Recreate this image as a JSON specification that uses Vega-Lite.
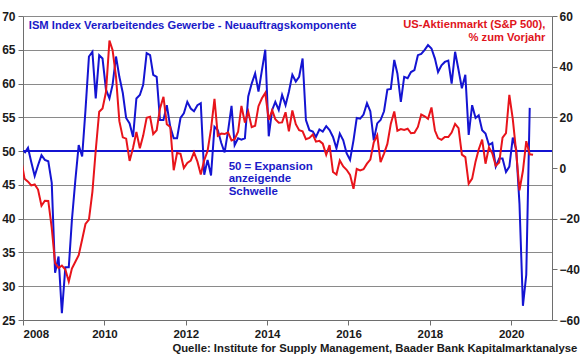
{
  "$schema": "https://vega.github.io/schema/vega-lite/v6.json",
  "width": 529,
  "height": 304,
  "autosize": {"type": "none"},
  "padding": {"left": 23, "top": 16, "right": 28, "bottom": 39},
  "config": {
    "font": "Liberation Sans",
    "view": {"stroke": null},
    "axis": {"labelFont": "Liberation Sans", "labelFontWeight": "bold", "labelFontSize": 12, "labelColor": "#1a1a1a", "domainColor": "#6e6e6e", "tickColor": "#6e6e6e", "tickSize": 5, "title": null, "grid": false, "labelOverlap": false}
  },
  "title": {"text": "Quelle: Institute for Supply Management, Baader Bank Kapitalmarktanalyse", "orient": "bottom", "anchor": "end", "frame": "bounds", "fontSize": 11.3, "fontWeight": "bold", "color": "#1a1a1a", "offset": 3, "dx": -2},
  "data": {"values": [
    {"d":"2007-12-15","spx":3.5},
    {"d":"2008-01-15","ism":49.7,"spx":-4.2},{"d":"2008-02-15","ism":50.5,"spx":-5.4},{"d":"2008-03-15","ism":48.4,"spx":-6.9},{"d":"2008-04-15","ism":46.3,"spx":-6.5},{"d":"2008-05-15","ism":47.9,"spx":-8.5},{"d":"2008-06-15","ism":49.4,"spx":-14.9},{"d":"2008-07-15","ism":48.7,"spx":-12.9},{"d":"2008-08-15","ism":48.5,"spx":-13.0},{"d":"2008-09-15","ism":45.3,"spx":-23.6},{"d":"2008-10-15","ism":32.0,"spx":-37.5},{"d":"2008-11-15","ism":34.4,"spx":-39.5},{"d":"2008-12-15","ism":26.0,"spx":-38.5},
    {"d":"2009-01-15","ism":32.8,"spx":-40.1},{"d":"2009-02-15","ism":32.8,"spx":-44.8},{"d":"2009-03-15","ism":39.8,"spx":-39.7},{"d":"2009-04-15","ism":45.7,"spx":-37.0},{"d":"2009-05-15","ism":50.9,"spx":-34.4},{"d":"2009-06-15","ism":49.2,"spx":-28.2},{"d":"2009-07-15","ism":56.1,"spx":-22.1},{"d":"2009-08-15","ism":64.0,"spx":-20.4},{"d":"2009-09-15","ism":64.7,"spx":-9.4},{"d":"2009-10-15","ism":57.8,"spx":7.0},{"d":"2009-11-15","ism":64.2,"spx":22.2},{"d":"2009-12-15","ism":63.7,"spx":23.5},
    {"d":"2010-01-15","ism":59.1,"spx":30.0},{"d":"2010-02-15","ism":57.8,"spx":50.3},{"d":"2010-03-15","ism":59.8,"spx":46.6},{"d":"2010-04-15","ism":64.0,"spx":36.0},{"d":"2010-05-15","ism":61.0,"spx":18.5},{"d":"2010-06-15","ism":58.6,"spx":12.1},{"d":"2010-07-15","ism":54.9,"spx":11.6},{"d":"2010-08-15","ism":54.1,"spx":2.8},{"d":"2010-09-15","ism":52.1,"spx":8.0},{"d":"2010-10-15","ism":57.8,"spx":14.2},{"d":"2010-11-15","ism":58.3,"spx":7.8},{"d":"2010-12-15","ism":59.8,"spx":12.8},
    {"d":"2011-01-15","ism":64.5,"spx":19.8},{"d":"2011-02-15","ism":64.2,"spx":20.2},{"d":"2011-03-15","ism":61.3,"spx":13.4},{"d":"2011-04-15","ism":61.0,"spx":14.9},{"d":"2011-05-15","ism":54.6,"spx":23.5},{"d":"2011-06-15","ism":54.6,"spx":28.1},{"d":"2011-07-15","ism":56.8,"spx":17.3},{"d":"2011-08-15","ism":53.6,"spx":16.2},{"d":"2011-09-15","ism":51.9,"spx":-0.9},{"d":"2011-10-15","ism":51.9,"spx":5.9},{"d":"2011-11-15","ism":54.9,"spx":5.6},{"d":"2011-12-15","ism":55.6,"spx":0.0},
    {"d":"2012-01-15","ism":57.3,"spx":2.0},{"d":"2012-02-15","ism":56.3,"spx":2.9},{"d":"2012-03-15","ism":55.9,"spx":6.2},{"d":"2012-04-15","ism":56.8,"spx":2.5},{"d":"2012-05-15","ism":57.1,"spx":-2.6},{"d":"2012-06-15","ism":46.5,"spx":3.1},{"d":"2012-07-15","ism":48.7,"spx":6.7},{"d":"2012-08-15","ism":46.4,"spx":15.4},{"d":"2012-09-15","ism":53.6,"spx":27.3},{"d":"2012-10-15","ism":53.1,"spx":12.7},{"d":"2012-11-15","ism":51.2,"spx":13.6},{"d":"2012-12-15","ism":49.8,"spx":13.4},
    {"d":"2013-01-15","ism":53.0,"spx":14.1},{"d":"2013-02-15","ism":56.7,"spx":10.9},{"d":"2013-03-15","ism":50.9,"spx":11.4},{"d":"2013-04-15","ism":51.9,"spx":14.3},{"d":"2013-05-15","ism":51.7,"spx":24.5},{"d":"2013-06-15","ism":51.9,"spx":17.9},{"d":"2013-07-15","ism":58.1,"spx":22.2},{"d":"2013-08-15","ism":60.0,"spx":16.1},{"d":"2013-09-15","ism":61.5,"spx":16.7},{"d":"2013-10-15","ism":58.8,"spx":24.4},{"d":"2013-11-15","ism":62.0,"spx":27.5},{"d":"2013-12-15","ism":65.0,"spx":29.6},
    {"d":"2014-01-15","ism":52.2,"spx":19.0},{"d":"2014-02-15","ism":56.1,"spx":22.8},{"d":"2014-03-15","ism":57.3,"spx":19.3},{"d":"2014-04-15","ism":56.1,"spx":17.9},{"d":"2014-05-15","ism":58.3,"spx":18.0},{"d":"2014-06-15","ism":56.8,"spx":22.0},{"d":"2014-07-15","ism":58.8,"spx":14.5},{"d":"2014-08-15","ism":61.3,"spx":22.7},{"d":"2014-09-15","ism":60.3,"spx":17.3},{"d":"2014-10-15","ism":61.0,"spx":14.9},{"d":"2014-11-15","ism":63.7,"spx":14.5},{"d":"2014-12-15","ism":54.6,"spx":11.4},
    {"d":"2015-01-15","ism":53.1,"spx":11.9},{"d":"2015-02-15","ism":52.9,"spx":13.2},{"d":"2015-03-15","ism":52.1,"spx":10.4},{"d":"2015-04-15","ism":53.2,"spx":10.7},{"d":"2015-05-15","ism":52.9,"spx":9.6},{"d":"2015-06-15","ism":53.7,"spx":5.2},{"d":"2015-07-15","ism":53.1,"spx":9.0},{"d":"2015-08-15","ism":52.1,"spx":-1.6},{"d":"2015-09-15","ism":50.4,"spx":-2.6},{"d":"2015-10-15","ism":52.6,"spx":3.0},{"d":"2015-11-15","ism":51.6,"spx":0.6},{"d":"2015-12-15","ism":49.7,"spx":-0.7},
    {"d":"2016-01-15","ism":48.7,"spx":-2.7},{"d":"2016-02-15","ism":51.6,"spx":-8.2},{"d":"2016-03-15","ism":54.9,"spx":-0.4},{"d":"2016-04-15","ism":54.8,"spx":-1.0},{"d":"2016-05-15","ism":55.4,"spx":-0.5},{"d":"2016-06-15","ism":57.1,"spx":1.7},{"d":"2016-07-15","ism":55.9,"spx":3.3},{"d":"2016-08-15","ism":51.6,"spx":10.1},{"d":"2016-09-15","ism":54.1,"spx":12.9},{"d":"2016-10-15","ism":54.6,"spx":2.3},{"d":"2016-11-15","ism":55.9,"spx":5.7},{"d":"2016-12-15","ism":59.1,"spx":9.5},
    {"d":"2017-01-15","ism":59.2,"spx":17.5},{"d":"2017-02-15","ism":63.5,"spx":22.3},{"d":"2017-03-15","ism":61.5,"spx":14.7},{"d":"2017-04-15","ism":57.3,"spx":15.4},{"d":"2017-05-15","ism":61.0,"spx":15.0},{"d":"2017-06-15","ism":60.8,"spx":15.5},{"d":"2017-07-15","ism":61.7,"spx":13.7},{"d":"2017-08-15","ism":62.0,"spx":13.9},{"d":"2017-09-15","ism":64.2,"spx":16.2},{"d":"2017-10-15","ism":64.4,"spx":21.1},{"d":"2017-11-15","ism":65.0,"spx":20.4},{"d":"2017-12-15","ism":65.7,"spx":19.4},
    {"d":"2018-01-15","ism":65.2,"spx":23.9},{"d":"2018-02-15","ism":63.7,"spx":14.8},{"d":"2018-03-15","ism":61.7,"spx":11.8},{"d":"2018-04-15","ism":62.7,"spx":11.1},{"d":"2018-05-15","ism":63.2,"spx":12.2},{"d":"2018-06-15","ism":63.4,"spx":12.2},{"d":"2018-07-15","ism":60.0,"spx":14.0},{"d":"2018-08-15","ism":64.7,"spx":17.4},{"d":"2018-09-15","ism":62.0,"spx":15.7},{"d":"2018-10-15","ism":59.3,"spx":5.3},{"d":"2018-11-15","ism":61.3,"spx":4.3},{"d":"2018-12-15","ism":52.4,"spx":-6.2},
    {"d":"2019-01-15","ism":56.8,"spx":-4.2},{"d":"2019-02-15","ism":54.9,"spx":2.6},{"d":"2019-03-15","ism":55.3,"spx":7.3},{"d":"2019-04-15","ism":53.1,"spx":11.2},{"d":"2019-05-15","ism":52.6,"spx":1.7},{"d":"2019-06-15","ism":50.9,"spx":8.2},{"d":"2019-07-15","ism":51.2,"spx":5.8},{"d":"2019-08-15","ism":47.7,"spx":0.9},{"d":"2019-09-15","ism":48.9,"spx":2.2},{"d":"2019-10-15","ism":48.9,"spx":12.0},{"d":"2019-11-15","ism":46.9,"spx":13.8},{"d":"2019-12-15","ism":47.7,"spx":28.9},
    {"d":"2020-01-15","ism":52.0,"spx":19.3},{"d":"2020-02-15","ism":50.2,"spx":6.1},{"d":"2020-03-15","ism":42.2,"spx":-8.8},{"d":"2020-04-15","ism":27.1,"spx":-1.1},{"d":"2020-05-15","ism":31.7,"spx":10.6},{"d":"2020-06-15","ism":56.4,"spx":5.4},
    {"d":"2020-07-15","spx":5.2}
  ]},
  "layer": [
    {
      "layer": [
        {"data": {"values": [{}]}, "mark": {"type": "rule", "color": "#1414d2", "strokeWidth": 2}, "encoding": {"y": {"datum": 50, "type": "quantitative"}}},
        {"mark": {"type": "line", "color": "#1414d2", "strokeWidth": 2, "clip": true},
         "encoding": {
           "x": {"field": "d", "type": "temporal",
                 "scale": {"type": "utc", "domain": [{"year": 2008, "month": 1, "date": 1, "utc": true}, {"year": 2021, "month": 1, "date": 1, "utc": true}]},
                 "axis": {"values": [{"year": 2008, "month": 1, "date": 1, "utc": true}, {"year": 2010, "month": 1, "date": 1, "utc": true}, {"year": 2012, "month": 1, "date": 1, "utc": true}, {"year": 2014, "month": 1, "date": 1, "utc": true}, {"year": 2016, "month": 1, "date": 1, "utc": true}, {"year": 2018, "month": 1, "date": 1, "utc": true}, {"year": 2020, "month": 1, "date": 1, "utc": true}], "tickCount": 20, "format": "%Y", "labelPadding": 3, "labelFontSize": 11.5, "labelOverlap": false}},
           "y": {"field": "ism", "type": "quantitative",
                 "scale": {"domain": [25, 70], "nice": false, "zero": false},
                 "axis": {"orient": "left", "values": [25, 30, 35, 40, 45, 50, 55, 60, 65, 70], "tickCount": 20, "grid": true, "gridColor": "#8a8a8a", "gridWidth": 1, "labelPadding": 3, "labelOverlap": false, "labelFlush": false}}
         }},
        {"data": {"values": [{}]},
         "mark": {"type": "text", "align": "left", "baseline": "middle", "fontSize": 11.2, "fontWeight": "bold", "color": "#1a1ac8", "text": "ISM Index Verarbeitendes Gewerbe - Neuauftragskomponente"},
         "encoding": {"x": {"datum": {"year": 2008, "month": 2, "date": 22, "utc": true}, "type": "temporal"}, "y": {"datum": 68.5, "type": "quantitative"}}},
        {"data": {"values": [{}]},
         "mark": {"type": "text", "align": "right", "baseline": "top", "fontSize": 11.2, "fontWeight": "bold", "color": "#e0141c", "lineHeight": 12.5, "text": ["US-Aktienmarkt (S&P 500),", "% zum Vorjahr"]},
         "encoding": {"x": {"datum": {"year": 2020, "month": 11, "date": 3, "utc": true}, "type": "temporal"}, "y": {"datum": 69.5, "type": "quantitative"}}},
        {"data": {"values": [{}]},
         "mark": {"type": "text", "align": "left", "baseline": "top", "fontSize": 11.5, "fontWeight": "bold", "color": "#1a1ac8", "lineHeight": 12.5, "text": ["50 = Expansion", "anzeigende", "Schwelle"]},
         "encoding": {"x": {"datum": {"year": 2013, "month": 1, "date": 20, "utc": true}, "type": "temporal"}, "y": {"datum": 48.6, "type": "quantitative"}}}
      ]
    },
    {
      "mark": {"type": "line", "color": "#e8141b", "strokeWidth": 2, "clip": true},
      "encoding": {
        "x": {"field": "d", "type": "temporal"},
        "y": {"field": "spx", "type": "quantitative",
              "scale": {"domain": [-60, 60], "nice": false, "zero": false},
              "axis": {"orient": "right", "values": [-60, -40, -20, 0, 20, 40, 60], "tickCount": 20, "labelPadding": 2, "labelOverlap": false}}
      }
    }
  ],
  "resolve": {"scale": {"y": "independent"}}
}
